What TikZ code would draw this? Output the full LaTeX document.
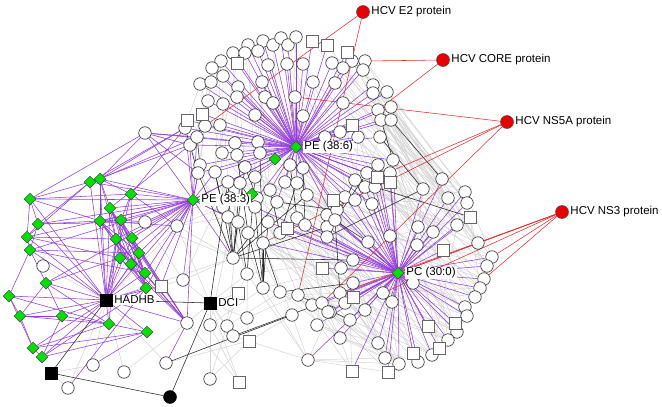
\documentclass[tikz,border=0pt]{standalone}
\usepackage{fontspec}
\setmainfont{Liberation Sans}
\usetikzlibrary{shapes.geometric}
\pgfdeclarelayer{edges}
\pgfsetlayers{edges,main}
\definecolor{pur}{RGB}{148,58,222}
\definecolor{gre}{RGB}{0,225,0}
\definecolor{hred}{RGB}{235,0,0}
\definecolor{redge}{RGB}{232,45,45}
\begin{document}
\begin{tikzpicture}[x=1pt,y=-1pt,
  cn/.style={circle,draw=black!85,fill=white,line width=0.6pt,minimum size=12.5pt,inner sep=0pt},
  sq/.style={rectangle,draw=black!60,fill=white,line width=0.6pt,minimum size=12pt,inner sep=0pt},
  gd/.style={diamond,draw=black!75,fill=gre,line width=0.5pt,minimum size=12pt,inner sep=0pt},
  rn/.style={circle,draw=black!70,fill=hred,line width=0.5pt,minimum size=13pt,inner sep=0pt},
  bsq/.style={rectangle,draw=black,fill=black,minimum size=12pt,inner sep=0pt},
  bci/.style={circle,draw=black,fill=black,minimum size=13pt,inner sep=0pt},
  ge/.style={draw=black!17,line width=0.5pt},
  pe/.style={draw=pur,line width=0.55pt},
  re/.style={draw=redge,line width=0.55pt},
  be/.style={draw=black!85,line width=0.55pt},
  lbl/.style={fill=white,inner sep=1pt,font=\fontsize{11.5}{13}\selectfont,anchor=west}]
\useasboundingbox (0,0) rectangle (662,407);

% circles
\foreach \i/\x/\y in {1/248/45,2/263/41,3/273/45,4/281/38,5/288/45,6/296/37,7/233/53,8/245/53,
 9/258/51,10/221/61,11/268/65,12/287/64,13/303/64,14/332/63,15/212/68,16/223/76,17/200/84,
 18/211/82,19/238/87,20/262/82,21/313/82,22/335/83,23/237/97,24/265/97,25/295/97,26/208/101,
 27/223/104,28/273/103,29/255/115,30/303/116,31/205/126,32/220/125,33/352/61,34/365/61,
 35/363/70,36/343/68,37/373/85,38/387/92,39/373/93,40/343/103,41/378/110,42/391/107,
 43/381/120,44/391/120,45/340/132,46/380/137,47/358/137,48/190/145,49/197/137,50/222/153,
 51/235/143,52/258/142,53/260/153,54/237/155,55/200/165,56/198/173,57/215/172,58/245/167,
 59/290/165,60/303/168,61/255/177,62/228/182,63/240/183,64/285/182,65/297/183,66/270/190,
 67/307/195,68/230/198,69/257/198,70/277/202,71/223/207,72/255/207,73/228/217,74/238/222,
 75/268/222,76/297/218,77/305/225,78/248/233,79/280/233,80/263/243,81/233/258,82/327/215,
 83/327/227,84/327/237,85/325/137,86/337/210,87/378/165,88/393/160,89/367/173,90/390/173,
 91/355/180,92/365/187,93/375/187,94/423/189,95/442/179,96/465/192,97/448/198,98/467/203,
 99/457/225,100/345/197,101/355/200,102/372/204,103/418/227,104/433/232,105/335/220,
 106/390/236,107/368/242,108/417/245,109/478/243,110/492/257,111/487/266,112/484/279,
 113/480/288,114/475/297,115/465/307,116/467/316,117/457/332,118/448/340,119/432/355,
 120/418/362,121/399/364,122/385/358,123/378/343,124/340/338,125/392/302,126/383/293,
 127/365/310,128/353/283,129/340/293,130/345/303,131/350/320,132/330/312,133/353/260,
 134/413/283,135/183/280,136/247/274,137/263/288,138/280/292,139/298/295,140/312/305,
 141/322/303,142/328/312,143/292/315,144/317/325,145/187/323,146/210/325,147/227/326,
 148/247/318,149/233/336,150/308/360,151/210/379,152/145/222,153/177/226,154/43/266,
 155/93/365,156/124/372,157/166/363,158/68/388,159/145/133,160/185/128,161/341/268}
  \node[cn] (c\i) at (\x,\y) {};

% squares
\foreach \i/\x/\y in {1/312/41,2/327/45,3/237/63,4/202/114,5/187/120,6/347/52,7/352/125,
 8/377/177,9/390/182,10/333/200,11/470/217,12/443/250,13/287/228,14/322/268,15/353/297,
 16/455/323,17/428/326,18/439/348,19/413/353,20/388/372,21/352/371,22/238/293,23/249/341,
 24/239/382,25/161/286}
  \node[sq] (s\i) at (\x,\y) {};

% green diamonds
\foreach \i/\x/\y in {1/90/182,2/100/179,3/30/199,4/131/194,5/38/224,6/110/208,7/100/221,
 8/121/220,9/27/237,10/116/239,11/132/238,12/30/250,13/139/253,14/120/258,15/131/264,
 16/145/273,17/146/288,18/46/283,19/9/296,20/20/316,21/62/316,22/109/324,23/147/332,
 24/33/348,25/42/357,26/275/159,27/252/194}
  \node[gd] (g\i) at (\x,\y) {};

\node[gd] (pe6) at (296,147) {};
\node[gd] (pe3) at (193,200) {};
\node[gd] (pc) at (398,273) {};

\node[bsq] (hadhb) at (106,300) {};
\node[bsq] (dci) at (210,303) {};
\node[bsq] (bsq1) at (51,373) {};
\node[bci] (bci1) at (170,397) {};

\node[rn] (e2) at (363,12) {};
\node[rn] (core) at (443,60) {};
\node[rn] (ns5a) at (507,122) {};
\node[rn] (ns3) at (562,212) {};

\begin{pgfonlayer}{edges}
% gray edges
\foreach \a/\b in {35/94,36/95,34/97,38/96,39/98,33/99,41/103,42/104,43/99,44/109,22/94,
 40/95,45/97,46/98,47/104,14/96,21/82,88/109,159/49,159/48,159/56,160/17,26/48,31/55,17/50,
 15/49,10/57,16/50,27/62,18/56,48/81,55/68,56/73,57/78,50/69,52/75,53/79,54/83,58/84,
 61/82,62/105,63/100,64/106,65/107,66/108,68/133,69/128,71/129,72/124,73/130,74/131,
 75/132,76/123,77/122,78/127,79/126,80/125,67/112,60/113,59/117,70/118,76/119,86/120,
 82/114,83/115,84/116,105/117,100/96,101/98,102/99,89/103,90/111,91/110,92/109,93/113,
 85/101,85/65,136/150,137/132,138/124,140/123,141/122,144/121,147/151,149/150,152/135,
 135/81,146/137,147/138,148/139,150/121,132/150,152/62,152/68,153/71,153/73,153/81,
 152/81,37/98,30/86,28/105,24/100,20/61,19/58,23/63,29/67,32/71,12/91,13/92,11/60,
 9/66,7/54,8/52,3/64,5/65,6/59,2/53,4/85,1/61,125/117,126/113,127/120,128/114,129/121,
 130/118,131/119,133/115,161/116,107/112,106/111,108/110,124/122,132/123,143/150,
 139/124,142/121,137/150,138/131,74/137,73/136,71/136,68/138,62/135,63/146,58/147,
 78/148,80/143,75/139,79/140,77/141,76/142,84/144,83/132,82/129,86/128,105/127,
 33/94,34/96,35/98,36/99,37/97,38/109,39/103,40/104,41/108,42/99,43/110,44/111,45/103,
 46/104,47/106,22/95,21/97,14/94,30/82,85/96,85/103,60/99,59/108,67/104,65/106,64/133,
 87/112,88/113,89/114,90/115,91/116,92/117,93/118,100/119,101/120,102/121,105/122,
 86/123,82/125,83/126,84/134,106/114,107/115,108/116,103/117,104/118,99/119,98/112,
 97/111,96/110,95/109,94/108,94/103,95/104,97/99,47/101,45/100,40/91,46/89,44/94,
 42/95,41/94,43/97,128/117,129/118,130/119,133/121,161/122,124/120,131/121,150/122,
 140/126,141/127,144/123,142/124,139/129,138/130,136/133,137/161,72/133,75/161,
 80/128,79/129,70/161,66/133,69/84,61/86,53/82,52/105}
  \draw[ge] (c\a) -- (c\b);
\foreach \a/\b in {s7/c108,s10/c97,s13/c121,s14/c118,c139/s21,c142/s20,c143/s23,c146/s24,
 c148/s23,c145/s24,c124/s21,c131/s21,c150/s20,s6/c95,s3/c57,s4/c51,s5/c160,s1/c94,s2/c97,
 s11/c113,s12/c114,s9/c104,s8/c103,s15/c121,s22/c136,s22/c147,s23/c151,s16/c106,s17/c107,
 s18/c108,s19/c133,s12/c106,s11/c107,s7/c99,s6/c98,s13/c117,s14/c119,
 hadhb/c155,hadhb/c156,hadhb/c158,hadhb/c154,hadhb/c157,hadhb/c135,hadhb/c152,hadhb/c153,
 hadhb/c81,dci/c151,dci/s24,dci/c145,dci/c146,dci/c147,dci/c148,dci/c136,dci/c135,dci/s22,
 dci/c153,dci/c149,bsq1/c155,bsq1/c158,c154/g12,c157/s23,c156/c145}
  \draw[ge] (\a) -- (\b);

% purple edges: PE (38:6)
\foreach \t in {c1,c2,c3,c4,c5,c6,c7,c8,c9,c10,c11,c12,c13,c14,c15,c16,c17,c18,c19,c20,c21,
 c22,c23,c24,c25,c26,c27,c28,c29,c30,c31,c32,c33,c34,c35,c36,c37,c38,c39,c40,c41,c42,c43,
 c44,c45,c46,c47,c48,c49,c50,c51,c52,c53,c54,c58,c59,c60,c61,c64,c65,c85,c87,c88,c89,c90,
 c91,c92,c93,c100,c101,c102,c86,c105,s1,s2,s3,s4,s5,s6,s7,s8,s9,s10,g26,pe3,c159,c160,
 c55,c56,c57,c62,c63,c66,c67,c69,c70}
  \draw[pe] (pe6) -- (\t);
% PC (30:0)
\foreach \t in {c67,c75,c76,c77,c79,c80,c82,c83,c84,c86,c92,c93,c94,c95,c96,c97,c98,c99,
 c100,c101,c102,c103,c104,c105,c106,c107,c108,c109,c110,c111,c112,c113,c114,c115,c116,
 c117,c118,c119,c120,c121,c122,c123,c124,c125,c126,c127,c128,c129,c130,c131,c132,c133,
 c134,c140,c141,c142,c144,c150,c161,s8,s9,s10,s11,s12,s13,s14,s15,s16,s17,s18,s19,s20,s21,
 c72,c87,c89,c90,c91,c88}
  \draw[pe] (pc) -- (\t);
% PE (38:3)
\foreach \t in {g1,g2,g3,g4,g5,g6,g7,g8,g9,g10,g11,g12,g13,g14,g16,g17,g18,hadhb,c48,c49,
 c55,c56,c57,c62,c68,c71,c152,c153,c159,c160,c145,s25,c135,c73,c74,c81,g27}
  \draw[pe] (pe3) -- (\t);
% HADHB
\foreach \t in {g1,g2,g3,g4,g5,g6,g7,g8,g9,g10,g11,g12,g13,g14,g15,g16,g17,g18,g19,g20,
 g21,g22,g23,g24,g25,c145,s25}
  \draw[pe] (hadhb) -- (\t);
% diamond links
\foreach \a/\b in {g1/g3,g1/g5,g1/g9,g2/g4,g2/g6,g2/g7,g2/g10,g3/g5,g3/g9,g3/g7,g5/g9,
 g5/g12,g9/g12,g12/g19,g12/g18,g19/g20,g19/g24,g20/g24,g20/g21,g24/g25,g18/g21,g18/g20,
 g18/g22,g21/g22,g21/g25,g22/g23,g4/g8,g4/g11,g6/g13,g6/g14,g6/g15,g6/g16,g6/g17,g7/g13,
 g7/g15,g7/g16,g7/g17,g8/g13,g8/g14,g8/g16,g8/g17,g10/g15,g10/g16,g10/g17,g11/g16,
 g11/g17,g13/g17,g14/g17,g6/c145,g7/c145,g8/c145,g10/c145,g11/c145,g3/g4,g5/g8,g9/g10,
 g12/g13,g18/g14,g24/g22,g25/g23,g20/g22,g1/g2,g1/c160,g2/c160,g2/c159,g3/c159,g4/c160,
 g1/c48,g2/c49,g5/c152,g9/g14,g12/g16,g19/g22,g25/g17,g24/g23,g4/c153,g8/c152,g11/s25,
 g13/s25,g15/c145,g16/c145,g14/c145,c159/c48,c159/c49,c159/c56,g6/c48,g7/c153,g10/g22,
 c145/c157,g17/c158,g23/c155}
  \draw[pe] (\a) -- (\b);

% black edges
\foreach \a/\b in {hadhb/dci,hadhb/bsq1,bsq1/bci1,bci1/dci,dci/c62,c157/c143,c149/c141,
 c81/c56,c81/c57,c81/c62,c81/c63,c81/c58,c81/c70,c81/c67,c81/c83,c81/c133,c81/c74,
 c81/c73,c137/c78,c137/c80,c137/c75,c137/c72,c136/c74,c138/c128,c139/c131,c46/c94,
 c94/c84,c93/s11,c54/c78,c59/c76,c60/c77,c58/c69,c70/c86,c44/c95,c43/c88,c66/c79,
 c138/c80,c136/c61,c137/c53,c91/c84,c89/c105,c63/c72,c57/c71,c62/c68,c160/c56,
 c49/c55,c65/c79,c82/c107,c105/c129}
  \draw[be] (\a) -- (\b);

% red edges
\foreach \a/\b in {e2/c31,e2/c139,core/c34,core/c41,ns5a/c25,ns5a/s8,ns5a/c141,ns5a/c80,
 ns3/c109,ns3/c110,ns3/c112,ns3/pc,ns3/c129,ns3/c126}
  \draw[re] (\a) -- (\b);
\end{pgfonlayer}

% labels
\node[lbl] at ([xshift=0.5pt]e2.east) {HCV E2 protein};
\node[lbl] at ([xshift=0.5pt]core.east) {HCV CORE protein};
\node[lbl] at ([xshift=0.5pt]ns5a.east) {HCV NS5A protein};
\node[lbl] at ([xshift=0.5pt]ns3.east) {HCV NS3 protein};
\node[lbl] at ([xshift=1pt]pe6.east) {PE (38:6)};
\node[lbl] at ([xshift=1pt]pe3.east) {PE (38:3)};
\node[lbl] at ([xshift=1pt]pc.east) {PC (30:0)};
\node[lbl] at ([xshift=1pt]hadhb.east) {HADHB};
\node[lbl] at ([xshift=1pt]dci.east) {DCI};
\end{tikzpicture}
\end{document}
